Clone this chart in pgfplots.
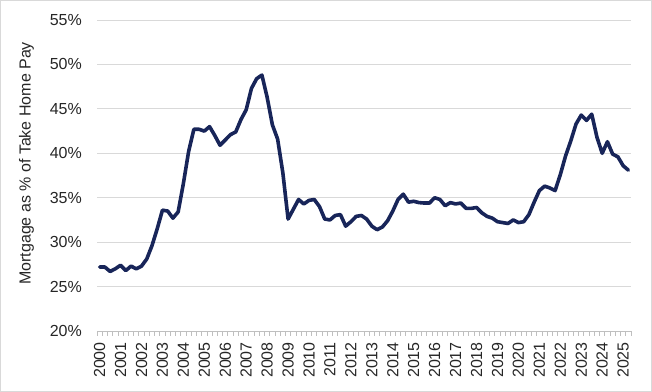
\documentclass[border=0pt]{standalone}
\usepackage{fontspec}
\setmainfont{Liberation Sans}
\usepackage{pgfplots}
\pgfplotsset{compat=1.18}
\definecolor{navy}{RGB}{24,37,89}
\definecolor{gridc}{RGB}{217,217,217}
\definecolor{axc}{RGB}{191,191,191}
\definecolor{txt}{RGB}{38,38,38}
\begin{document}
\fontsize{16bp}{19bp}\selectfont
\begin{tikzpicture}
\useasboundingbox (0,0) rectangle (652bp,392bp);
\draw[gridc, line width=1bp] (0.5bp,0.5bp) rectangle (651.5bp,391.5bp);
\begin{axis}[
  at={(97bp,61bp)}, anchor=south west,
  width=534bp, height=311bp, scale only axis,
  xmin=-0.5, xmax=101.5, ymin=20, ymax=55,
  axis x line*=bottom, axis y line*=left,
  x axis line style={-, draw=axc, line width=0.8bp},
  y axis line style={draw=none},
  ytick={20,25,...,55},
  yticklabel={\pgfmathparse{int(round(\tick))}\pgfmathresult\%},
  ymajorgrids, grid style={gridc, line width=0.8bp},
  xtick={0,4,...,100},
  xticklabels={2000,2001,2002,2003,2004,2005,2006,2007,2008,2009,2010,2011,2012,2013,2014,2015,2016,2017,2018,2019,2020,2021,2022,2023,2024,2025},
  minor xtick={-0.5,0.5,...,101.5},
  major tick length=0pt, minor tick length=4.5bp, tick align=outside,
  minor tick style={draw=axc, line width=0.8bp},
  /pgf/number format/assume math mode=true,
  tick label style={font=\fontsize{16bp}{19bp}\selectfont, text=txt},
  yticklabel style={anchor=east, inner sep=0pt, xshift=-15bp},
  xticklabel style={rotate=90, anchor=east, inner sep=0pt, xshift=-11bp},
  ylabel={Mortgage as \% of Take Home Pay},
  ylabel style={at={(axis description cs:-0.132,0.539)}, anchor=center, font=\fontsize{16bp}{19bp}\selectfont, text=txt},
]
\addplot[navy, line width=3.6bp, line join=round, line cap=round] coordinates {
(0,27.2) (1,27.2) (2,26.7) (3,27.0) (4,27.4) (5,26.8) (6,27.3) (7,27.0) (8,27.3) (9,28.1)
(10,29.6) (11,31.5) (12,33.6) (13,33.5) (14,32.7) (15,33.4) (16,36.6) (17,40.2) (18,42.7) (19,42.7)
(20,42.5) (21,43.0) (22,42.0) (23,40.9) (24,41.5) (25,42.1) (26,42.4) (27,43.8) (28,44.9) (29,47.3)
(30,48.4) (31,48.8) (32,46.3) (33,43.2) (34,41.6) (35,37.8) (36,32.6) (37,33.7) (38,34.8) (39,34.3)
(40,34.7) (41,34.8) (42,34.0) (43,32.6) (44,32.5) (45,33.0) (46,33.1) (47,31.8) (48,32.3) (49,32.9)
(50,33.0) (51,32.6) (52,31.8) (53,31.4) (54,31.7) (55,32.4) (56,33.5) (57,34.8) (58,35.4) (59,34.5)
(60,34.6) (61,34.45) (62,34.4) (63,34.4) (64,35.0) (65,34.8) (66,34.1) (67,34.45) (68,34.3) (69,34.4)
(70,33.8) (71,33.8) (72,33.9) (73,33.3) (74,32.9) (75,32.7) (76,32.3) (77,32.2) (78,32.1) (79,32.5)
(80,32.2) (81,32.3) (82,33.1) (83,34.5) (84,35.8) (85,36.3) (86,36.1) (87,35.8) (88,37.6) (89,39.7)
(90,41.4) (91,43.3) (92,44.3) (93,43.7) (94,44.4) (95,41.8) (96,40.0) (97,41.3) (98,39.9) (99,39.6)
(100,38.6) (101,38.1)
};
\end{axis}
\end{tikzpicture}
\end{document}
